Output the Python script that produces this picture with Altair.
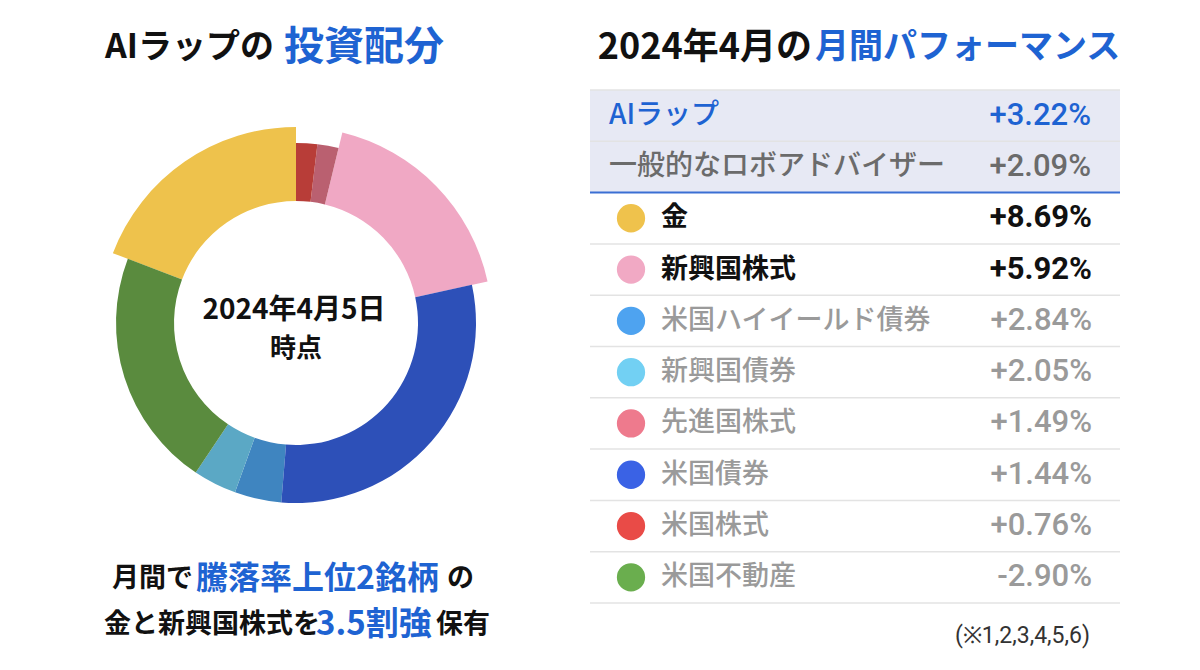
import altair as alt
import pandas as pd

# ---------------- data ----------------
assets = ["金", "新興国株式", "米国ハイイールド債券", "新興国債券",
          "先進国株式", "米国債券", "米国株式", "米国不動産"]
returns = [8.69, 5.92, 2.84, 2.05, 1.49, 1.44, 0.76, -2.90]
alloc = [19.2, 17.8, 4.2, 3.9, 1.9, 29.7, 1.9, 21.4]
ring_order = [7, 2, 4, 5, 1, 3, 0, 6]
ring_colors = ["#EEC24C", "#F0A8C4", "#3F85C0", "#5BA8C5",
               "#BA6070", "#2D50B8", "#B83D38", "#5A8B3E"]
dot_colors = ["#EFC24C", "#F1A9C4", "#4EA3F0", "#72D0F3",
              "#EE7A8D", "#3A62E5", "#E94B47", "#6AAE4E"]
header_names = ["AIラップ", "一般的なロボアドバイザー"]
header_returns = [3.22, 2.09]

BLUE = "#1E63D2"
JP = "Noto Sans CJK JP"
NUM = "Roboto"

n_head = len(header_names)
n_rows = n_head + len(assets)

body = pd.DataFrame({"asset": assets, "ret": returns, "alloc": alloc,
                     "ring": ring_order,
                     "row": list(range(n_head, n_rows))})
head = pd.DataFrame({"name": header_names, "ret": header_returns,
                     "row": list(range(n_head))})

yscale = alt.Scale(domain=[0, n_rows], range=[90, 603], nice=False, zero=False)
fmt = "(datum.ret >= 0 ? '+' : '-') + format(abs(datum.ret), '.2f') + '%'"


def ypos(field):
    return alt.Y(field, scale=yscale, axis=None)


# ---------------- table ----------------
header_bg = alt.Chart(pd.DataFrame({"y0": [0], "y1": [n_head]})).mark_rect(
    color="#E7E9F4").encode(
    x=alt.value(590), x2=alt.value(1120), y=ypos("y0:Q"), y2="y1:Q")

gray_b = [0, 1] + list(range(n_head + 1, n_rows + 1))
gray_rules = alt.Chart(pd.DataFrame({"b": gray_b})).mark_rule(
    color="#E3E3E3", strokeWidth=1.5).encode(
    x=alt.value(590), x2=alt.value(1120), y=ypos("b:Q"))

blue_rule = alt.Chart(pd.DataFrame({"b": [n_head]})).mark_rule(
    color="#3B6FD3", strokeWidth=2).encode(
    x=alt.value(590), x2=alt.value(1120), y=ypos("b:Q"))

head_base = alt.Chart(head).transform_calculate(yc="datum.row + 0.5", lbl=fmt)
head_color = alt.condition("datum.row == 0", alt.value(BLUE), alt.value("#6B6B6B"))
head_names = head_base.mark_text(align="left", baseline="middle", font=JP,
                                 fontSize=28, fontWeight=500).encode(
    x=alt.value(609), y=ypos("yc:Q"), text="name:N", color=head_color)
head_vals = head_base.mark_text(align="right", baseline="middle", font=NUM,
                                fontSize=31, fontWeight=500).encode(
    x=alt.value(1091), y=ypos("yc:Q"), text="lbl:N", color=head_color)

body_base = alt.Chart(body).transform_window(
    rk="rank()", sort=[alt.SortField("ret", order="descending")]
).transform_calculate(yc="datum.row + 0.5", lbl=fmt, hl="datum.rk <= 2 ? 1 : 0")

dots = body_base.mark_circle(size=800, opacity=1).encode(
    x=alt.value(631), y=ypos("yc:Q"),
    fill=alt.Fill("asset:N", scale=alt.Scale(domain=assets, range=dot_colors), legend=None))

top = body_base.transform_filter("datum.hl == 1")
rest = body_base.transform_filter("datum.hl == 0")

top_names = top.mark_text(align="left", baseline="middle", font=JP, fontSize=27,
                          fontWeight="bold", color="#111111").encode(
    x=alt.value(661), y=ypos("yc:Q"), text="asset:N")
rest_names = rest.mark_text(align="left", baseline="middle", font=JP, fontSize=27,
                            fontWeight=500, color="#9A9A9A").encode(
    x=alt.value(661), y=ypos("yc:Q"), text="asset:N")
top_vals = top.mark_text(align="right", baseline="middle", font=NUM, fontSize=31,
                         fontWeight="bold", color="#111111").encode(
    x=alt.value(1092), y=ypos("yc:Q"), text="lbl:N")
rest_vals = rest.mark_text(align="right", baseline="middle", font=NUM, fontSize=31,
                           fontWeight=500, color="#9A9A9A").encode(
    x=alt.value(1092), y=ypos("yc:Q"), text="lbl:N")

footnote = alt.Chart(pd.DataFrame({"t": ["(※1,2,3,4,5,6)"]})).mark_text(
    align="right", baseline="middle", font=NUM, fontSize=23, color="#333333").encode(
    x=alt.value(1090), y=alt.value(636), text="t:N")

# ---------------- donut ----------------
arcs = body_base.transform_joinaggregate(
    total="sum(alloc)"
).transform_window(
    cum="sum(alloc)", sort=[alt.SortField("ring")], frame=[None, 0]
).transform_calculate(
    t1="datum.cum / datum.total * 2 * PI",
    t0="(datum.cum - datum.alloc) / datum.total * 2 * PI"
).mark_arc(innerRadius=122, strokeWidth=0).encode(
    theta=alt.Theta("t0:Q", scale=None),
    theta2="t1:Q",
    radius=alt.Radius("hl:Q", stack=False,
                      scale=alt.Scale(type="linear", domain=[0, 1], range=[180, 196])),
    color=alt.Color("asset:N", scale=alt.Scale(domain=assets, range=ring_colors), legend=None),
    x=alt.value(296), y=alt.value(323))


def txt(s, x, y, size, color="#111111", weight="bold", align="left", font=JP):
    return alt.Chart(pd.DataFrame({"t": [s]})).mark_text(
        align=align, baseline="middle", font=font, fontSize=size, fontWeight=weight,
        color=color).encode(
        x=alt.value(x), y=alt.value(y), text="t:N")


center1 = txt("2024年4月5日", 294, 311, 28, align="center")
center2 = txt("時点", 296, 349, 26, align="center")

titles = [
    txt("AIラップの", 274, 48, 34, align="right"),
    txt("投資配分", 284, 48, 40, color=BLUE),
    txt("2024年4月の", 812, 48, 36, align="right"),
    txt("月間パフォーマンス", 815, 48, 34, color=BLUE),
]

bottom = [
    txt("月間で", 112, 579, 27),
    txt("騰落率上位2銘柄", 196, 579, 32, color=BLUE),
    txt("の", 447, 579, 27),
    txt("金と新興国株式を", 104, 625, 27),
    txt("3.5割強", 316, 625, 33, color=BLUE),
    txt("保有", 436, 625, 27),
]

chart = alt.layer(
    header_bg, gray_rules, blue_rule, head_names, head_vals,
    dots, top_names, rest_names, top_vals, rest_vals, footnote,
    arcs, center1, center2, *titles, *bottom
).properties(
    width=1200, height=670, padding=0, autosize="none", background="white"
).configure_view(stroke=None)

chart.save("out.html", embed_options={"renderer": "svg", "actions": False})
